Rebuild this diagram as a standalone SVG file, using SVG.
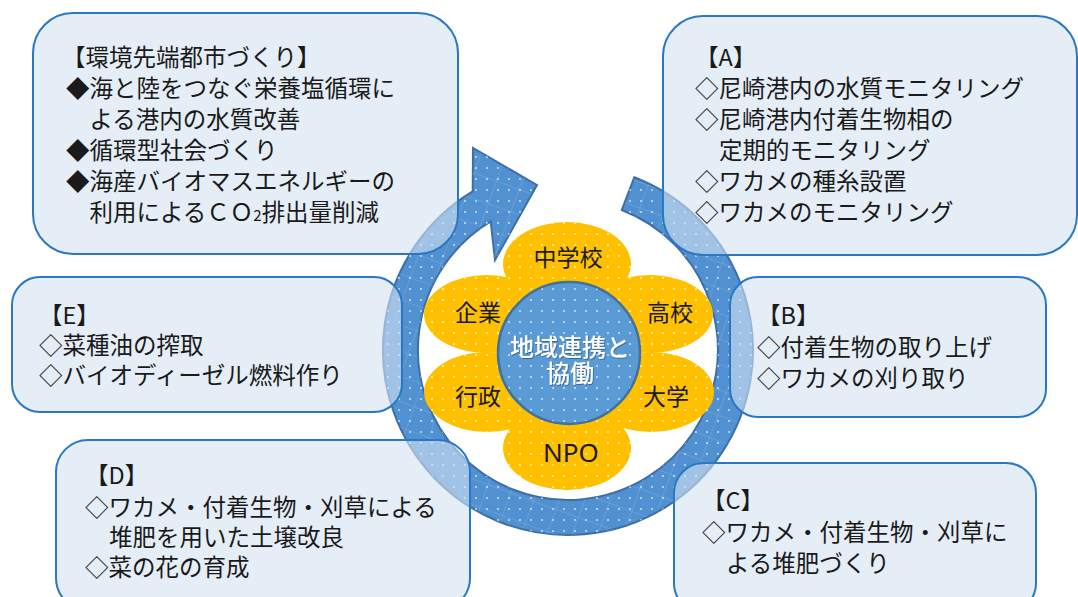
<svg xmlns="http://www.w3.org/2000/svg" width="1078" height="597" viewBox="0 0 1078 597">
<style>
.box{fill:#d3e2f2;fill-opacity:0.6;stroke:#2a78c2;stroke-width:2}
.t{font-family:"Noto Sans CJK JP","Noto Sans",sans-serif;font-size:23.5px;fill:#1a1a1a}
.pt{font-family:"Noto Sans CJK JP","Noto Sans",sans-serif;font-size:23px;fill:#1a1a1a;text-anchor:middle}
.ct{font-family:"Noto Sans CJK JP","Noto Sans",sans-serif;font-size:24px;fill:#ffffff;text-anchor:middle;font-weight:500}
.petal{fill:#ffc000}
</style>
<defs>
<pattern id="dots" width="11" height="11" patternUnits="userSpaceOnUse">
<circle cx="3" cy="3" r="0.9" fill="#ffffff" fill-opacity="0.8"/>
</pattern>
<pattern id="grid" width="24" height="24" patternUnits="userSpaceOnUse" patternTransform="rotate(20)">
<path d="M0 0H24M0 0V24" stroke="#ffffff" stroke-opacity="0.22" stroke-width="1" fill="none"/>
</pattern>
<filter id="sh" x="-10%" y="-10%" width="120%" height="130%">
<feDropShadow dx="0.8" dy="1" stdDeviation="0.6" flood-color="#1f3f66" flood-opacity="0.6"/>
</filter>
</defs>
<rect width="1078" height="597" fill="#ffffff"/>

<g id="connectors">
<path id="cycle-arrow" d="M634.3,177.3 A185 185 0 1 1 472.7,191.4 L473,148 L537,185 L495,260 L490.7,221.4 A150 150 0 1 0 621.8,210 Z" fill="#5291d1" stroke="#3d6fa6" stroke-width="2" stroke-linejoin="miter"/>
<path d="M634.3,177.3 A185 185 0 1 1 472.7,191.4 L473,148 L537,185 L495,260 L490.7,221.4 A150 150 0 1 0 621.8,210 Z" fill="url(#grid)"/>
<path d="M634.3,177.3 A185 185 0 1 1 472.7,191.4 L473,148 L537,185 L495,260 L490.7,221.4 A150 150 0 1 0 621.8,210 Z" fill="url(#dots)"/>
</g>

<g id="hub">
<g id="petal-top"><ellipse class="petal" cx="567" cy="264" rx="64" ry="42"/><ellipse cx="567" cy="264" rx="64" ry="42" fill="url(#dots)"/><text class="pt" x="568" y="266">中学校</text></g>
<g id="petal-bottom"><ellipse class="petal" cx="567" cy="448" rx="64" ry="42"/><ellipse cx="567" cy="448" rx="64" ry="42" fill="url(#dots)"/><text class="pt" x="571" y="462" style="font-family:'Noto Sans','Noto Sans CJK JP',sans-serif;font-size:26px">NPO</text></g>
<g id="petal-ur"><ellipse class="petal" cx="650" cy="314" rx="63" ry="39"/><ellipse cx="650" cy="314" rx="63" ry="39" fill="url(#dots)"/><text class="pt" x="670" y="321">高校</text></g>
<g id="petal-lr"><ellipse class="petal" cx="651" cy="392" rx="63" ry="40"/><ellipse cx="651" cy="392" rx="63" ry="40" fill="url(#dots)"/><text class="pt" x="666" y="405">大学</text></g>
<g id="petal-ul"><ellipse class="petal" cx="487" cy="314" rx="63" ry="39"/><ellipse cx="487" cy="314" rx="63" ry="39" fill="url(#dots)"/><text class="pt" x="478" y="321">企業</text></g>
<g id="petal-ll"><ellipse class="petal" cx="487" cy="392" rx="63" ry="40"/><ellipse cx="487" cy="392" rx="63" ry="40" fill="url(#dots)"/><text class="pt" x="478" y="405">行政</text></g>
<g id="center">
<circle cx="569" cy="353" r="71" fill="#5b9bd5" stroke="#41719c" stroke-width="2.5"/>
<circle cx="569" cy="353" r="70" fill="url(#dots)"/>
<text class="ct" x="570" y="356" filter="url(#sh)">地域連携と</text>
<text class="ct" x="570" y="382" filter="url(#sh)">協働</text>
</g>
</g>

<g id="box-vision">
<rect class="box" x="33" y="13" width="425" height="241" rx="40"/>
<text class="t" x="62" y="66">【環境先端都市づくり】</text>
<text class="t" x="66" y="97">◆海と陸をつなぐ栄養塩循環に</text>
<text class="t" x="89.5" y="128">よる港内の水質改善</text>
<text class="t" x="66" y="159">◆循環型社会づくり</text>
<text class="t" x="66" y="190">◆海産バイオマスエネルギーの</text>
<text class="t" x="89.5" y="221">利用によるＣＯ<tspan font-size="15">2</tspan>排出量削減</text>
</g>

<g id="box-a">
<rect class="box" x="663" y="16" width="414" height="239" rx="40"/>
<text class="t" x="695" y="66">【A】</text>
<text class="t" x="695" y="97">◇尼崎港内の水質モニタリング</text>
<text class="t" x="695" y="128">◇尼崎港内付着生物相の</text>
<text class="t" x="719" y="159">定期的モニタリング</text>
<text class="t" x="695" y="190">◇ワカメの種糸設置</text>
<text class="t" x="695" y="221">◇ワカメのモニタリング</text>
</g>

<g id="box-b">
<rect class="box" x="730" y="277" width="316" height="140" rx="28"/>
<text class="t" x="757" y="324">【B】</text>
<text class="t" x="757" y="356">◇付着生物の取り上げ</text>
<text class="t" x="757" y="387">◇ワカメの刈り取り</text>
</g>

<g id="box-c">
<rect class="box" x="674" y="463" width="362" height="150" rx="30"/>
<text class="t" x="702" y="509">【C】</text>
<text class="t" x="702" y="541">◇ワカメ・付着生物・刈草に</text>
<text class="t" x="726" y="572">よる堆肥づくり</text>
</g>

<g id="box-d">
<rect class="box" x="56" y="440" width="414" height="170" rx="32"/>
<text class="t" x="85" y="484">【D】</text>
<text class="t" x="85" y="516">◇ワカメ・付着生物・刈草による</text>
<text class="t" x="109" y="546">堆肥を用いた土壌改良</text>
<text class="t" x="85" y="576">◇菜の花の育成</text>
</g>

<g id="box-e">
<rect class="box" x="12" y="277" width="390" height="135" rx="28"/>
<text class="t" x="39" y="324">【E】</text>
<text class="t" x="39" y="354">◇菜種油の搾取</text>
<text class="t" x="39" y="384">◇バイオディーゼル燃料作り</text>
</g>
</svg>
